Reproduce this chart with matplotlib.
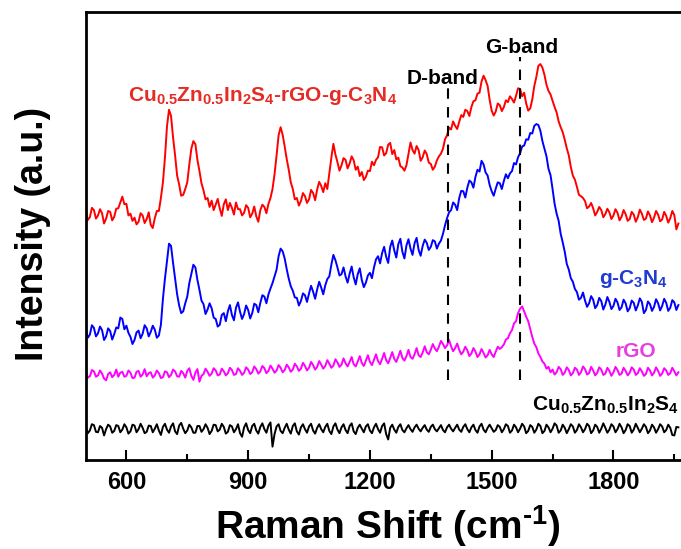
import numpy as np
import matplotlib
matplotlib.use("Agg")
import matplotlib.pyplot as plt

plt.rcParams['font.family'] = ['Liberation Sans', 'DejaVu Sans']
plt.rcParams['font.weight'] = 'bold'
plt.rcParams['axes.labelweight'] = 'bold'
plt.rcParams['mathtext.fontset'] = 'custom'
plt.rcParams['mathtext.rm'] = 'Liberation Sans:bold'
plt.rcParams['mathtext.bf'] = 'Liberation Sans:bold'
plt.rcParams['mathtext.it'] = 'Liberation Sans:bold'
plt.rcParams['mathtext.default'] = 'rm'

# Raman shift grid (cm-1), 500..1960 step 5
shift = np.arange(500, 1965, 5)

# intensities (a.u., spectra stacked), one row = 100 cm-1
composite = [
    55.5, 53.6, 54.2, 56.3, 55.8, 53.9, 54.6, 56.0, 55.1, 52.8, 53.9, 55.6, 55.4, 53.5, 54.3, 56.1, 56.2, 57.5, 58.8, 57.1,
    57.2, 54.6, 55.0, 53.4, 54.1, 52.6, 53.2, 55.1, 54.6, 52.9, 53.8, 55.3, 52.5, 51.8, 54.0, 55.6, 55.6, 58.5, 62.0, 67.5,
    74.5, 78.2, 76.8, 72.0, 68.0, 63.5, 61.5, 59.0, 59.2, 60.5, 62.0, 66.0, 69.5, 71.2, 70.5, 67.0, 64.5, 61.8, 60.2, 58.2,
    58.5, 56.5, 57.9, 55.8, 57.0, 58.3, 56.2, 54.5, 57.1, 58.2, 55.8, 57.4, 56.3, 54.8, 57.5, 56.0, 56.0, 54.6, 55.2, 56.9,
    56.3, 54.2, 55.0, 56.6, 54.4, 53.2, 55.8, 57.0, 56.5, 55.1, 57.2, 58.5, 60.5, 63.8, 68.0, 72.5, 74.3, 72.6, 70.0, 67.2,
    64.8, 62.0, 60.5, 58.2, 58.5, 56.8, 57.8, 59.6, 58.9, 57.4, 58.2, 60.3, 59.6, 58.0, 60.4, 62.1, 61.2, 59.8, 61.8, 60.5,
    64.0, 67.5, 70.6, 68.2, 66.5, 64.6, 65.8, 67.4, 67.0, 65.1, 66.2, 67.8, 66.9, 64.8, 65.5, 63.4, 64.3, 62.5, 63.2, 64.6,
    64.5, 66.6, 65.8, 67.0, 67.6, 69.9, 69.8, 68.0, 68.5, 70.4, 70.8, 68.3, 69.2, 67.1, 67.5, 65.6, 65.3, 64.6, 65.8, 68.4,
    70.9, 69.2, 68.4, 70.1, 69.2, 66.8, 67.6, 69.1, 68.3, 66.4, 66.1, 64.8, 65.5, 66.9, 67.8, 68.4, 69.5, 71.6, 72.5, 74.2,
    73.8, 75.6, 74.6, 73.9, 75.5, 77.0, 76.6, 78.2, 77.9, 76.8, 78.8, 80.1, 80.3, 81.8, 82.0, 84.5, 85.8, 84.8, 83.5, 80.4,
    78.0, 76.9, 77.8, 79.6, 79.2, 77.9, 78.8, 80.3, 79.9, 81.2, 80.6, 79.8, 81.3, 83.0, 82.8, 81.2, 82.0, 79.6, 78.0, 78.5,
    80.5, 83.5, 85.5, 88.0, 88.4, 87.6, 86.0, 83.8, 82.4, 81.6, 80.2, 78.8, 77.6, 75.6, 74.3, 73.2, 71.5, 69.6, 68.0, 65.4,
    63.5, 62.6, 61.0, 59.2, 58.9, 58.5, 57.8, 56.2, 56.6, 57.4, 56.2, 54.6, 55.4, 56.5, 55.8, 54.2, 54.9, 56.1, 55.3, 53.8,
    54.6, 56.0, 55.2, 53.5, 54.3, 55.8, 54.9, 53.4, 53.8, 55.4, 54.8, 53.2, 54.2, 55.9, 55.0, 53.6, 53.9, 55.5, 54.6, 53.1,
    54.1, 55.6, 54.8, 53.3, 53.7, 55.4, 54.5, 53.0, 54.0, 55.6, 54.7, 51.5, 52.8,
]
gcn = [
    29.2, 27.3, 28.0, 30.1, 29.5, 27.6, 28.3, 29.8, 29.0, 26.8, 27.6, 29.4, 28.8, 26.9, 28.1, 29.6, 29.4, 31.8, 31.5, 29.2,
    30.0, 28.4, 27.5, 25.9, 26.8, 28.5, 28.9, 27.2, 28.2, 30.1, 29.4, 27.6, 28.6, 30.0, 29.1, 27.3, 27.8, 30.2, 36.0, 40.5,
    44.5, 48.3, 47.8, 44.0, 40.5, 37.0, 34.5, 32.8, 33.2, 35.0, 36.5, 39.5, 41.5, 43.6, 43.0, 40.2, 38.0, 35.6, 34.8, 32.6,
    33.6, 35.0, 33.9, 31.8, 31.5, 29.8, 30.2, 32.4, 32.8, 31.0, 33.2, 34.6, 32.4, 31.2, 34.0, 35.2, 33.1, 31.5, 32.6, 34.5,
    33.5, 31.6, 32.8, 34.9, 34.6, 33.0, 35.1, 36.8, 36.5, 35.0, 37.0, 38.3, 39.5, 41.0, 42.5, 45.5, 47.2, 46.6, 45.0, 42.6,
    40.5, 38.8, 37.8, 36.3, 36.2, 34.5, 35.5, 37.2, 36.8, 35.3, 37.2, 38.9, 37.6, 36.0, 38.1, 39.8, 38.5, 37.0, 39.0, 40.4,
    41.0, 43.6, 45.8, 44.6, 43.0, 41.2, 41.5, 43.0, 41.0, 39.6, 41.6, 43.2, 40.8, 39.2, 41.5, 42.8, 40.2, 38.6, 39.6, 41.2,
    41.8, 40.6, 43.0, 44.8, 45.5, 43.9, 46.2, 47.6, 45.4, 44.0, 47.6, 49.0, 46.8, 45.2, 48.2, 49.4, 46.5, 45.0, 47.9, 49.3,
    47.2, 45.8, 48.4, 49.6, 46.9, 45.6, 47.8, 49.2, 48.5, 46.9, 47.6, 49.1, 48.8, 47.2, 48.3, 49.0, 50.5, 52.4, 54.0, 55.3,
    55.8, 57.5, 57.0, 55.8, 58.5, 60.1, 60.0, 58.6, 60.8, 62.4, 62.0, 60.8, 63.2, 64.8, 64.4, 66.8, 66.0, 64.2, 63.5, 61.4,
    60.0, 59.0, 60.6, 62.0, 61.8, 60.5, 62.3, 63.8, 62.9, 64.0, 64.5, 66.3, 66.0, 67.6, 68.5, 70.0, 70.2, 71.6, 71.5, 73.0,
    72.9, 74.6, 75.0, 74.8, 73.5, 71.2, 69.5, 67.8, 65.0, 63.6, 60.5, 57.2, 55.0, 53.4, 50.5, 48.6, 46.5, 43.8, 42.5, 40.6,
    39.8, 38.2, 37.5, 35.8, 36.2, 37.4, 35.6, 34.2, 35.0, 36.6, 35.8, 33.9, 34.6, 36.2, 35.5, 33.6, 34.7, 36.4, 35.3, 33.7,
    34.4, 36.0, 35.2, 33.5, 34.1, 35.8, 35.0, 33.2, 33.9, 35.6, 35.1, 33.4, 34.5, 36.1, 35.3, 32.8, 33.5, 35.4, 34.8, 33.3,
    34.2, 35.9, 35.0, 33.4, 34.4, 36.0, 35.1, 33.3, 34.0, 35.7, 35.2, 33.5, 34.6,
]
rgo = [
    19.5, 18.4, 18.7, 20.1, 19.8, 18.6, 18.9, 20.0, 19.3, 18.2, 17.8, 19.2, 19.6, 18.5, 19.0, 20.2, 18.6, 19.5, 19.7, 18.6,
    18.8, 20.0, 19.5, 18.3, 18.4, 19.7, 19.9, 18.6, 19.1, 20.3, 18.7, 19.4, 19.6, 18.4, 18.9, 20.0, 19.4, 18.3, 18.5, 19.8,
    19.6, 18.5, 19.0, 20.2, 19.8, 18.7, 18.6, 19.9, 19.4, 18.4, 19.9, 20.5, 18.8, 17.9, 19.5, 20.3, 17.5, 18.8, 19.2, 20.4,
    19.7, 18.8, 19.3, 20.5, 20.0, 18.9, 19.1, 20.4, 19.8, 18.9, 19.4, 20.6, 20.1, 19.0, 19.2, 20.5, 19.9, 19.0, 19.5, 20.7,
    20.2, 19.2, 19.6, 20.9, 20.3, 19.3, 19.8, 21.0, 20.5, 19.4, 19.9, 21.1, 20.4, 19.5, 20.0, 21.2, 20.6, 19.6, 20.1, 21.3,
    20.7, 19.7, 20.2, 21.5, 20.9, 19.9, 20.4, 21.7, 21.0, 20.0, 20.6, 21.9, 21.2, 20.2, 20.8, 22.1, 21.3, 20.4, 21.0, 22.3,
    21.5, 20.6, 21.1, 22.5, 21.8, 20.8, 21.3, 22.7, 21.6, 20.9, 21.9, 23.0, 21.4, 20.9, 22.0, 23.2, 21.7, 21.0, 22.2, 23.4,
    21.9, 21.2, 22.4, 23.6, 22.1, 21.4, 22.6, 23.9, 22.3, 21.6, 22.8, 24.1, 22.6, 21.9, 23.1, 24.4, 22.8, 22.2, 23.2, 24.6,
    23.0, 22.6, 23.6, 25.0, 23.4, 23.0, 24.0, 25.4, 24.1, 23.6, 24.6, 25.9, 24.9, 24.3, 25.3, 26.6, 25.9, 25.0, 25.6, 26.8,
    25.4, 24.3, 25.0, 26.0, 24.6, 23.6, 24.2, 25.3, 24.5, 23.2, 23.8, 25.0, 24.2, 23.0, 23.6, 24.8, 23.9, 22.9, 23.4, 24.6,
    23.6, 23.0, 24.2, 25.3, 24.8, 25.2, 25.8, 26.9, 27.2, 28.3, 29.0, 30.5, 31.0, 32.8, 33.8, 34.3, 33.2, 32.0, 31.0, 29.2,
    27.5, 26.0, 25.2, 23.8, 23.0, 22.0, 21.5, 20.4, 20.8, 19.6, 20.2, 19.1, 19.6, 20.8, 20.3, 19.0, 19.5, 20.7, 20.1, 18.9,
    19.4, 20.6, 20.2, 19.0, 19.6, 20.9, 20.3, 19.1, 19.4, 20.8, 20.0, 18.9, 19.5, 20.7, 20.2, 19.0, 19.3, 20.6, 19.9, 18.8,
    19.6, 20.8, 20.1, 19.0, 19.3, 20.6, 19.9, 18.9, 19.5, 20.7, 20.2, 19.0, 19.4, 20.5, 19.8, 18.8, 19.2, 20.6, 20.0, 18.9,
    19.5, 20.7, 19.9, 18.8, 19.3, 20.5, 20.0, 19.0, 19.4, 20.6, 19.8, 18.9, 19.6,
]
czis = [
    7.4, 6.0, 6.6, 8.0, 7.8, 6.3, 6.2, 7.6, 7.2, 5.5, 6.9, 7.9, 7.5, 6.1, 6.5, 7.8, 7.6, 6.2, 6.8, 8.0,
    7.3, 5.9, 6.4, 7.9, 7.7, 6.2, 6.9, 8.1, 7.2, 6.0, 6.3, 7.7, 7.6, 6.2, 7.0, 8.0, 6.6, 5.6, 7.4, 8.1,
    6.8, 6.1, 7.5, 8.2, 6.4, 5.8, 7.7, 8.3, 7.0, 6.0, 6.6, 7.9, 7.3, 6.1, 6.1, 7.6, 7.6, 6.3, 6.9, 8.0,
    7.2, 5.8, 6.5, 7.9, 7.8, 6.4, 6.8, 8.1, 7.4, 5.9, 6.3, 7.8, 7.5, 6.2, 6.9, 8.0, 6.0, 5.2, 7.3, 8.2,
    6.7, 6.0, 7.6, 8.1, 6.6, 5.9, 7.4, 8.2, 6.9, 6.1, 7.7, 8.4, 3.0, 5.8, 7.5, 8.0, 6.5, 6.0, 7.2, 8.1,
    6.8, 5.9, 7.6, 8.2, 6.4, 5.7, 7.3, 8.0, 6.9, 6.1, 7.5, 8.1, 6.6, 5.9, 7.2, 8.0, 6.9, 6.2, 7.4, 8.1,
    6.5, 5.8, 7.5, 8.2, 6.8, 6.0, 7.3, 8.0, 6.7, 6.0, 7.6, 8.2, 6.4, 5.8, 7.2, 7.9, 7.0, 6.2, 7.5, 8.0,
    6.6, 6.0, 7.3, 8.1, 6.9, 6.1, 7.6, 8.2, 5.8, 4.6, 7.2, 7.9, 6.8, 6.1, 7.4, 8.0, 6.7, 6.2, 7.1, 7.8,
    6.9, 6.3, 7.3, 7.9, 7.0, 6.4, 7.2, 7.8, 6.8, 6.3, 7.4, 7.9, 6.9, 6.4, 7.1, 7.8, 6.7, 6.2, 7.3, 7.9,
    7.0, 6.4, 7.2, 7.9, 6.8, 6.3, 7.4, 8.0, 6.9, 6.2, 7.3, 7.9, 6.7, 6.1, 7.5, 8.1, 6.8, 6.2, 7.2, 7.9,
    7.1, 6.3, 6.7, 7.8, 7.4, 6.2, 6.9, 8.0, 7.6, 6.1, 6.6, 7.9, 7.3, 6.2, 7.0, 8.1, 7.5, 6.0, 6.5, 7.8,
    7.4, 6.1, 6.8, 8.1, 7.6, 6.0, 6.5, 7.9, 7.3, 6.2, 7.0, 8.2, 7.7, 6.1, 6.6, 7.9, 7.2, 6.0, 6.9, 8.0,
    7.5, 6.1, 6.7, 8.0, 7.3, 6.2, 6.9, 8.1, 7.6, 6.0, 6.6, 7.9, 7.4, 6.1, 7.0, 8.2, 7.2, 6.1, 6.8, 8.0,
    7.5, 6.2, 6.9, 8.1, 7.3, 6.0, 6.7, 8.0, 7.6, 6.1, 6.8, 8.1, 7.2, 6.2, 7.0, 8.0, 7.4, 6.0, 6.6, 7.9,
    7.3, 6.1, 6.9, 8.0, 7.5, 6.2, 6.7, 7.9, 7.2, 5.6, 5.5, 7.4, 7.3,
]

d_band = 1393
g_band = 1570

fig = plt.figure(figsize=(6.81, 5.49), dpi=100)
# right side of the original frame is cropped off
ax = fig.add_axes([0.126, 0.162, 0.894, 0.816])

ax.plot(shift, composite, color='#ff0000', lw=1.4)
ax.plot(shift, gcn, color='#0000ff', lw=1.4)
ax.plot(shift, rgo, color='#ff00ff', lw=1.4)
ax.plot(shift, czis, color='black', lw=1.4)

ax.plot([d_band, d_band], [17.8, 83], color='black', lw=1.5, ls=(0, (5, 4)))
ax.plot([g_band, g_band], [17.8, 90], color='black', lw=1.5, ls=(0, (5, 4)))

ax.text(935, 81.2, r'Cu$_{0.5}$Zn$_{0.5}$In$_2$S$_4$-rGO-g-C$_3$N$_4$',
        color='#e62a24', fontsize=15, ha='center', va='center')
ax.text(1378, 85.2, 'D-band', fontsize=15, ha='center', va='center')
ax.text(1573, 92.2, 'G-band', fontsize=15, ha='center', va='center')
ax.text(1850, 40.4, r'g-C$_3$N$_4$', color='#1f3bd0', fontsize=15, ha='center', va='center')
ax.text(1855, 24.2, 'rGO', color='#e83ee0', fontsize=15, ha='center', va='center')
ax.text(1781, 12.3, r'Cu$_{0.5}$Zn$_{0.5}$In$_2$S$_4$', fontsize=15, ha='center', va='center')

ax.set_xlim(500, 2000)
ax.set_ylim(0, 100)
ax.set_xticks([600, 900, 1200, 1500, 1800])
ax.set_xticks([750, 1050, 1350, 1650, 1950], minor=True)
ax.set_yticks([])
ax.tick_params(axis='x', which='major', direction='in', length=7, width=1.5, labelsize=17, pad=8)
ax.tick_params(axis='x', which='minor', direction='in', length=4, width=1.5)
for s in ax.spines.values():
    s.set_linewidth(2)

ax.set_xlabel(r'Raman Shift (cm$^{\text{-}1}$)', fontsize=28, fontweight='bold')
ax.set_ylabel('Intensity (a.u.)', fontsize=27, fontweight='bold')
ax.xaxis.set_label_coords(0.496, -0.097)
ax.yaxis.set_label_coords(-0.057, 0.505)

fig.savefig('out.png', dpi=100)
